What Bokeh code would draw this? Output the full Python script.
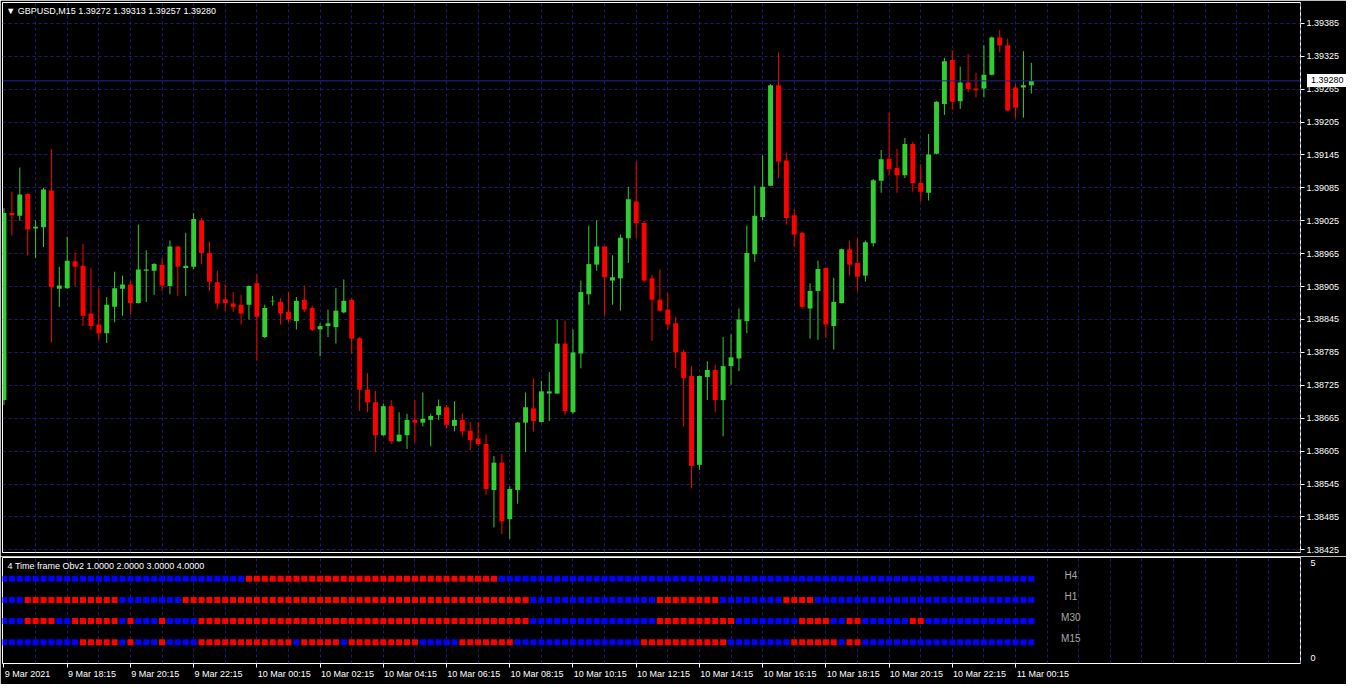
from bokeh.plotting import figure
from bokeh.models import (ColumnDataSource, FixedTicker, PrintfTickFormatter,
                          Range1d, Label, Span, Grid, LinearAxis, Div)
from bokeh.layouts import column
from bokeh.embed import file_html
from bokeh.resources import INLINE

symbol = "GBPUSD,M15"

opens = [1.38698, 1.39039, 1.39034, 1.39074, 1.39011, 1.39013, 1.39080, 1.38901, 1.38902, 1.38951,
         1.38943, 1.38856, 1.38836, 1.38820, 1.38868, 1.38901, 1.38909, 1.38875, 1.38934, 1.38934,
         1.38945, 1.38906, 1.38978, 1.38939, 1.38941, 1.39026, 1.38966, 1.38913, 1.38882, 1.38874,
         1.38872, 1.38872, 1.38911, 1.38813, 1.38878, 1.38877, 1.38859, 1.38842, 1.38881, 1.38866,
         1.38827, 1.38833, 1.38831, 1.38858, 1.38881, 1.38811, 1.38717, 1.38694, 1.38634, 1.38687,
         1.38623, 1.38634, 1.38662, 1.38657, 1.38662, 1.38671, 1.38685, 1.38651, 1.38662, 1.38642,
         1.38628, 1.38618, 1.38534, 1.38584, 1.38481, 1.38534, 1.38657, 1.38683, 1.38658, 1.38710,
         1.38710, 1.38801, 1.38676, 1.38783, 1.38891, 1.38945, 1.38978, 1.38916, 1.38920, 1.38993,
         1.39060, 1.39021, 1.38920, 1.38881, 1.38863, 1.38838, 1.38786, 1.38742, 1.38580, 1.38740,
         1.38753, 1.38698, 1.38760, 1.38774, 1.38842, 1.38964, 1.39032, 1.39089, 1.39272, 1.39135,
         1.39035, 1.39003, 1.38865, 1.38897, 1.38939, 1.38833, 1.38875, 1.38973, 1.38948, 1.38925,
         1.38984, 1.39098, 1.39138, 1.39121, 1.39108, 1.39165, 1.39094, 1.39076, 1.39147, 1.39238,
         1.39318, 1.39243, 1.39277, 1.39266, 1.39266, 1.39291, 1.39359, 1.39345, 1.39268, 1.39268,
         1.39272]
highs = [1.39048, 1.39078, 1.39122, 1.39075, 1.39026, 1.39085, 1.39156, 1.38941, 1.38996, 1.38967,
         1.38983, 1.38939, 1.38902, 1.38886, 1.38932, 1.38925, 1.38916, 1.39018, 1.38971, 1.38948,
         1.38957, 1.38989, 1.38979, 1.39003, 1.39039, 1.39030, 1.38987, 1.38934, 1.38909, 1.38895,
         1.38890, 1.38907, 1.38927, 1.38872, 1.38888, 1.38884, 1.38895, 1.38886, 1.38907, 1.38870,
         1.38838, 1.38863, 1.38902, 1.38918, 1.38884, 1.38813, 1.38747, 1.38715, 1.38692, 1.38698,
         1.38676, 1.38673, 1.38698, 1.38712, 1.38673, 1.38699, 1.38689, 1.38696, 1.38674, 1.38658,
         1.38658, 1.38635, 1.38596, 1.38600, 1.38541, 1.38658, 1.38712, 1.38737, 1.38733, 1.38749,
         1.38845, 1.38843, 1.38827, 1.38916, 1.39016, 1.39026, 1.38979, 1.38962, 1.39000, 1.39087,
         1.39133, 1.39025, 1.38927, 1.38936, 1.38893, 1.38850, 1.38790, 1.38760, 1.38743, 1.38769,
         1.38762, 1.38813, 1.38818, 1.38865, 1.39016, 1.39089, 1.39144, 1.39274, 1.39332, 1.39149,
         1.39046, 1.39004, 1.38911, 1.38952, 1.38940, 1.38921, 1.38974, 1.38989, 1.38994, 1.38989,
         1.39101, 1.39154, 1.39222, 1.39156, 1.39176, 1.39169, 1.39128, 1.39183, 1.39243, 1.39322,
         1.39336, 1.39306, 1.39329, 1.39295, 1.39345, 1.39361, 1.39373, 1.39357, 1.39274, 1.39334,
         1.39313]
lows = [1.38689, 1.38998, 1.39025, 1.38962, 1.38957, 1.38977, 1.38803, 1.38868, 1.38901, 1.38906,
        1.38833, 1.38826, 1.38808, 1.38802, 1.38840, 1.38852, 1.38854, 1.38874, 1.38877, 1.38890,
        1.38897, 1.38891, 1.38888, 1.38888, 1.38937, 1.38946, 1.38897, 1.38865, 1.38861, 1.38859,
        1.38836, 1.38845, 1.38770, 1.38811, 1.38870, 1.38836, 1.38840, 1.38827, 1.38858, 1.38824,
        1.38778, 1.38813, 1.38801, 1.38856, 1.38783, 1.38678, 1.38676, 1.38603, 1.38633, 1.38618,
        1.38622, 1.38609, 1.38621, 1.38650, 1.38614, 1.38662, 1.38646, 1.38641, 1.38632, 1.38607,
        1.38614, 1.38525, 1.38466, 1.38454, 1.38445, 1.38509, 1.38603, 1.38641, 1.38657, 1.38660,
        1.38709, 1.38671, 1.38673, 1.38756, 1.38872, 1.38934, 1.38852, 1.38872, 1.38861, 1.38948,
        1.38993, 1.38913, 1.38806, 1.38859, 1.38826, 1.38756, 1.38650, 1.38538, 1.38571, 1.38698,
        1.38676, 1.38632, 1.38726, 1.38751, 1.38820, 1.38950, 1.39026, 1.39088, 1.39103, 1.39018,
        1.38977, 1.38865, 1.38810, 1.38808, 1.38811, 1.38790, 1.38874, 1.38925, 1.38897, 1.38914,
        1.38978, 1.39076, 1.39108, 1.39076, 1.39103, 1.39078, 1.39060, 1.39062, 1.39146, 1.39218,
        1.39227, 1.39229, 1.39259, 1.39250, 1.39250, 1.39290, 1.39332, 1.39225, 1.39213, 1.39213,
        1.39257]
closes = [1.39039, 1.39035, 1.39073, 1.39009, 1.39014, 1.39082, 1.38904, 1.38907, 1.38952, 1.38941,
          1.38852, 1.38833, 1.38820, 1.38872, 1.38902, 1.38909, 1.38875, 1.38936, 1.38936, 1.38946,
          1.38907, 1.38978, 1.38941, 1.38943, 1.39028, 1.38966, 1.38914, 1.38874, 1.38875, 1.38868,
          1.38856, 1.38906, 1.38850, 1.38866, 1.38879, 1.38856, 1.38845, 1.38879, 1.38863, 1.38826,
          1.38833, 1.38838, 1.38861, 1.38879, 1.38810, 1.38717, 1.38694, 1.38634, 1.38687, 1.38623,
          1.38635, 1.38662, 1.38657, 1.38664, 1.38669, 1.38687, 1.38653, 1.38662, 1.38641, 1.38625,
          1.38618, 1.38536, 1.38584, 1.38477, 1.38536, 1.38657, 1.38685, 1.38660, 1.38714, 1.38714,
          1.38801, 1.38678, 1.38785, 1.38895, 1.38946, 1.38978, 1.38922, 1.38922, 1.38994, 1.39064,
          1.39021, 1.38916, 1.38881, 1.38861, 1.38836, 1.38785, 1.38738, 1.38578, 1.38742, 1.38753,
          1.38698, 1.38760, 1.38776, 1.38845, 1.38966, 1.39034, 1.39087, 1.39272, 1.39133, 1.39030,
          1.39000, 1.38868, 1.38897, 1.38937, 1.38836, 1.38877, 1.38973, 1.38945, 1.38923, 1.38986,
          1.39099, 1.39137, 1.39119, 1.39108, 1.39165, 1.39094, 1.39078, 1.39146, 1.39242, 1.39316,
          1.39242, 1.39277, 1.39265, 1.39263, 1.39291, 1.39359, 1.39345, 1.39226, 1.39231, 1.39272,
          1.39280]

price_ticks = [1.38425, 1.38485, 1.38545, 1.38605, 1.38665, 1.38725, 1.38785, 1.38845, 1.38905,
               1.38965, 1.39025, 1.39085, 1.39145, 1.39205, 1.39265, 1.39325, 1.39385]

time_labels = ["9 Mar 2021", "9 Mar 18:15", "9 Mar 20:15", "9 Mar 22:15", "10 Mar 00:15",
               "10 Mar 02:15", "10 Mar 04:15", "10 Mar 06:15", "10 Mar 08:15", "10 Mar 10:15",
               "10 Mar 12:15", "10 Mar 14:15", "10 Mar 16:15", "10 Mar 18:15", "10 Mar 20:15",
               "10 Mar 22:15", "11 Mar 00:15"]

# indicator states per bar, as runs of (colour code, number of bars)
h4_runs = [("B", 31), ("R", 32), ("B", 68)]
h1_runs = [("B", 3), ("R", 12), ("B", 8), ("R", 44), ("B", 16), ("R", 8), ("B", 8), ("R", 4), ("B", 28)]
m30_runs = [("B", 3), ("R", 4), ("B", 2), ("R", 6), ("B", 1), ("R", 1), ("B", 3), ("R", 1), ("B", 4),
            ("R", 42), ("B", 16), ("R", 10), ("B", 8), ("R", 4), ("B", 2), ("R", 2), ("B", 6),
            ("R", 2), ("B", 14)]
m15_runs = [("B", 10), ("R", 5), ("B", 1), ("R", 1), ("B", 3), ("R", 1), ("B", 4), ("R", 12), ("B", 1),
            ("R", 5), ("B", 1), ("R", 9), ("B", 5), ("R", 7), ("B", 16), ("R", 11), ("B", 8), ("R", 6),
            ("B", 1), ("R", 2), ("B", 22)]
row_names = ["H4", "H1", "M30", "M15"]
row_levels = [4, 3, 2, 1]
row_runs = [h4_runs, h1_runs, m30_runs, m15_runs]
indicator_title = "4 Time frame Obv2 1.0000 2.0000 3.0000 4.0000"

# ---------------------------------------------------------------- styling
BG = "black"
GRID = "#1c1c78"
BULL = "#32CD32"
BEAR = "#ff0000"
FONT = "Liberation Sans"
FS = "9px"
FW = 1298
MAIN_H = 550
X0, X1 = -0.1875, 164.06
Y0, Y1 = 1.384202, 1.394229
PX_PER_BAR = FW / (X1 - X0)
n = len(opens)
xs = list(range(n))
xr = Range1d(X0, X1)

colors = [BULL if c >= o else BEAR for o, c in zip(opens, closes)]
src = ColumnDataSource(dict(
    x=xs, high=highs, low=lows,
    top=[max(o, c) for o, c in zip(opens, closes)],
    bot=[min(o, c) for o, c in zip(opens, closes)],
    color=colors))

main = figure(frame_width=FW, frame_height=MAIN_H, x_range=xr,
              y_range=Range1d(Y0, Y1),
              x_axis_location=None, y_axis_location="right",
              toolbar_location=None, output_backend="svg",
              background_fill_color=BG, border_fill_color=BG,
              outline_line_color="white", outline_line_width=1,
              min_border_left=2, min_border_right=46, min_border_top=2, min_border_bottom=4)

grid_ticks = list(range(4, 165, 4))
label_ticks = list(range(0, 8 * len(time_labels), 8))

main.xgrid.visible = False
main.add_layout(Grid(dimension=0, ticker=FixedTicker(ticks=grid_ticks),
                     grid_line_color=GRID, grid_line_dash="3 3", grid_line_width=1))
main.ygrid.grid_line_color = GRID
main.ygrid.grid_line_dash = "3 3"

ya = main.yaxis[0]
ya.ticker = FixedTicker(ticks=price_ticks)
ya.formatter = PrintfTickFormatter(format="%.5f")
ya.axis_line_color = None
ya.major_tick_line_color = "white"
ya.major_tick_out = 4
ya.major_tick_in = 0
ya.minor_tick_line_color = None
ya.major_label_text_color = "white"
ya.major_label_text_font = FONT
ya.major_label_text_font_size = FS
ya.major_label_standoff = 2

main.add_layout(Span(location=closes[-1], dimension="width", line_color="#262694", line_width=1))

main.segment(x0="x", y0="low", x1="x", y1="high", line_color="color", line_width=1, source=src)
main.vbar(x="x", width=0.62, top="top", bottom="bot", fill_color="color",
          line_color=None, source=src)

header = f"\u25bc  {symbol}  {opens[-1]:.5f} {highs[-1]:.5f} {lows[-1]:.5f} {closes[-1]:.5f}"
main.add_layout(Label(x=0.3, y=1.394074, text=header, text_color="white",
                      text_font=FONT, text_font_size=FS, text_baseline="middle",
                      text_align="left"))

# ---------------------------------------------------------------- indicator
ind = figure(frame_width=FW, frame_height=106, x_range=xr, y_range=Range1d(0, 5),
             x_axis_location="below", y_axis_location="right",
             toolbar_location=None, output_backend="svg",
             background_fill_color=BG, border_fill_color=BG,
             outline_line_color="white", outline_line_width=1,
             min_border_left=2, min_border_right=46, min_border_top=1, min_border_bottom=21)
ind.xgrid.visible = False
ind.ygrid.visible = False
ind.add_layout(Grid(dimension=0, ticker=FixedTicker(ticks=grid_ticks),
                    grid_line_color=GRID, grid_line_dash="3 3", grid_line_width=1))

# axis carrying only the tick marks
xa = ind.xaxis[0]
xa.ticker = FixedTicker(ticks=label_ticks)
xa.major_label_overrides = {t: "" for t in label_ticks}
xa.major_label_text_font_size = "1px"
xa.major_label_standoff = 0
xa.axis_line_color = None
xa.major_tick_line_color = "white"
xa.major_tick_out = 4
xa.major_tick_in = 0
xa.minor_tick_line_color = None

# axis carrying the labels, each shifted so that its left edge sits at its tick
CHAR_W = {" ": 278, ":": 278, "M": 833, "a": 556, "r": 333}


def text_width_px(s, size=9.0):
    return sum(CHAR_W.get(ch, 556) for ch in s) * size / 1000.0


shifted = [round(t + text_width_px(lab) / 2.0 / PX_PER_BAR + 0.1, 4)
           for t, lab in zip(label_ticks, time_labels)]
xb = LinearAxis(ticker=FixedTicker(ticks=shifted),
                major_label_overrides={s: lab for s, lab in zip(shifted, time_labels)})
xb.axis_line_color = None
xb.major_tick_line_color = None
xb.minor_tick_line_color = None
xb.major_tick_out = 0
xb.major_tick_in = 0
xb.major_label_standoff = 1
xb.major_label_text_color = "white"
xb.major_label_text_font = FONT
xb.major_label_text_font_size = FS
ind.add_layout(xb, "below")

iy = ind.yaxis[0]
iy.ticker = FixedTicker(ticks=[0.27, 4.73])
iy.major_label_overrides = {0.27: "0", 4.73: "5"}
iy.axis_line_color = None
iy.major_tick_line_color = None
iy.minor_tick_line_color = None
iy.major_label_text_color = "white"
iy.major_label_text_font = FONT
iy.major_label_text_font_size = FS
iy.major_label_standoff = 4

sq_x, sq_y, sq_c = [], [], []
for level, runs in zip(row_levels, row_runs):
    i = 0
    for code, cnt in runs:
        for _ in range(cnt):
            sq_x.append(i)
            sq_y.append(level)
            sq_c.append("#0000ff" if code == "B" else "#ff0000")
            i += 1
ind.scatter(x=sq_x, y=sq_y, marker="square", size=6, fill_color=sq_c, line_color=None)

for name, level in zip(row_names, row_levels):
    ind.add_layout(Label(x=135, y=level + 0.17, text=name, text_color="#a8a8a8",
                         text_font=FONT, text_font_size="10px", text_align="center",
                         text_baseline="middle"))

ind.add_layout(Label(x=0.45, y=4.61, text=indicator_title, text_color="white",
                     text_font=FONT, text_font_size=FS, text_align="left",
                     text_baseline="middle"))

# current-price box on the price scale (placed from the price scale mapping)
box_center = 2 + (Y1 - closes[-1]) / (Y1 - Y0) * MAIN_H
price_box = Div(text=f"{closes[-1]:.5f}", width=42, height=13,
                styles={"position": "absolute", "left": "1302px",
                        "top": f"{box_center - 6.5 - 5:.1f}px",
                        "background-color": "white", "color": "black",
                        "font-family": FONT, "font-size": "9px", "line-height": "13px",
                        "padding-left": "4px", "box-sizing": "border-box",
                        "z-index": "10", "overflow": "hidden"})

layout = column(main, ind, price_box, spacing=0)
open("out.html", "w").write(file_html(layout, INLINE))
